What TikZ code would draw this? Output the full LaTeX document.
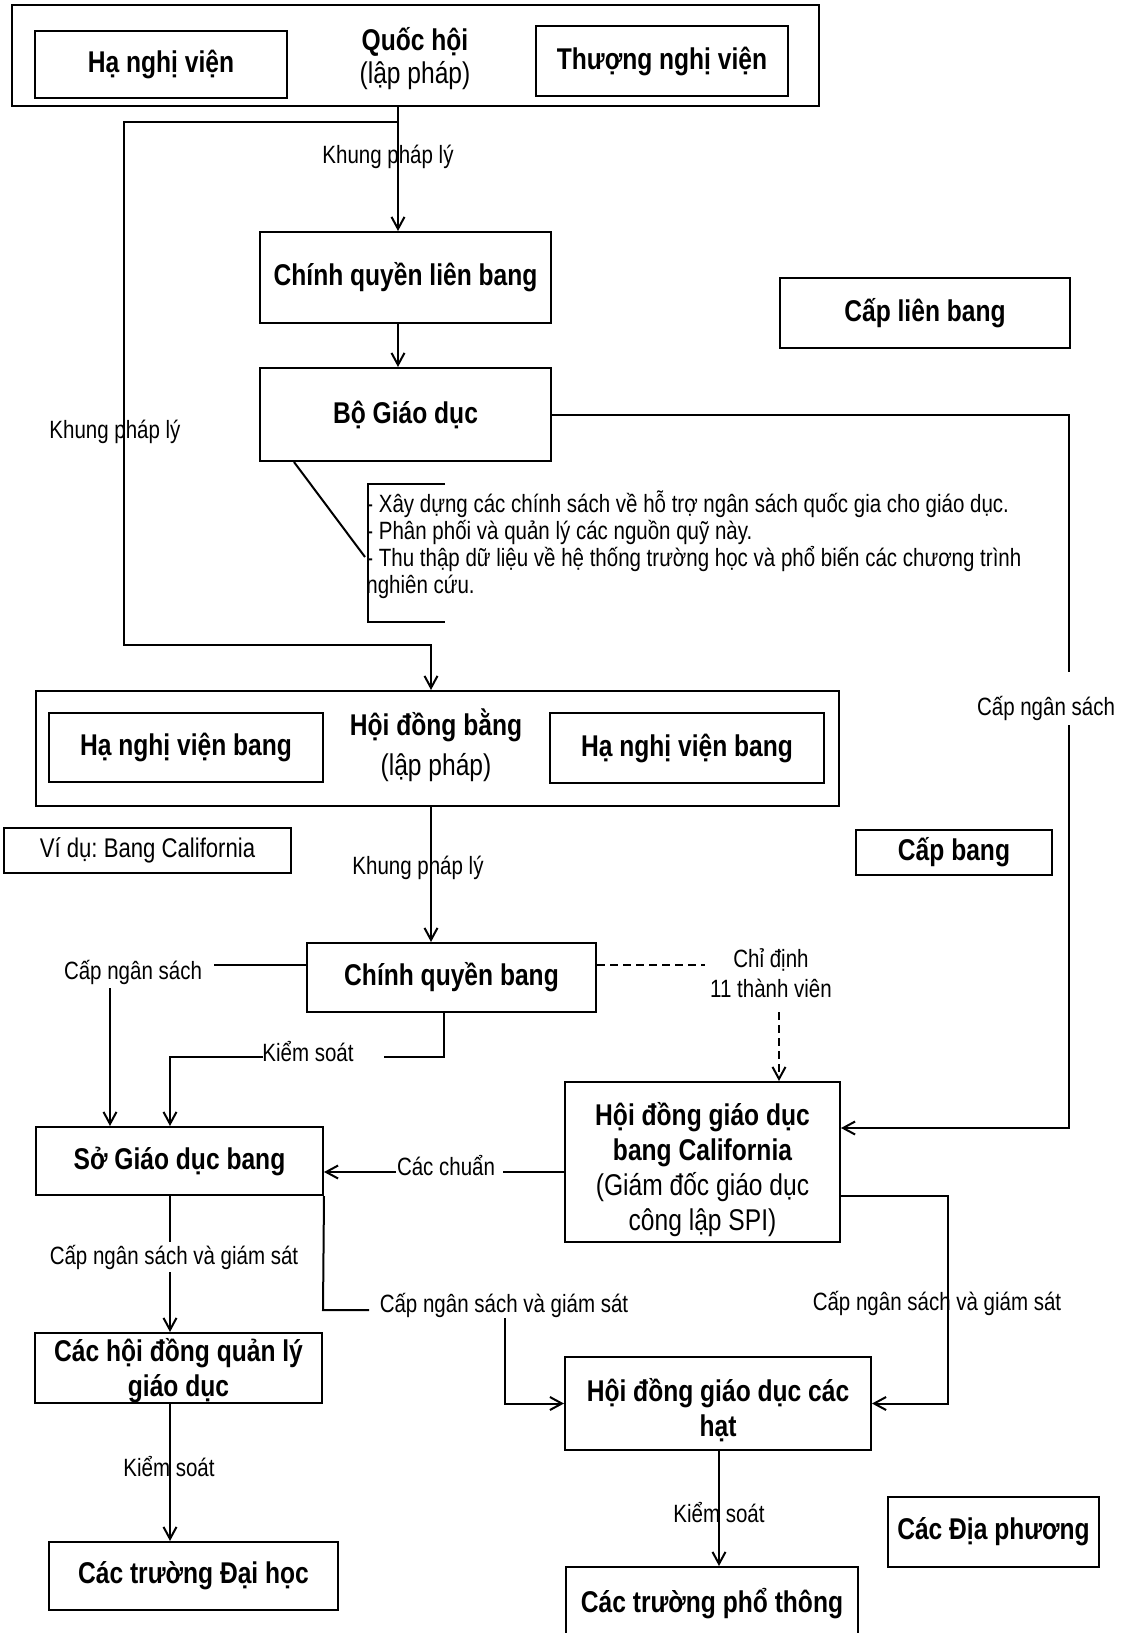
\documentclass[tikz,border=0pt]{standalone}
\usepackage{fontspec}
\setmainfont{Liberation Sans}[FakeStretch=0.82]
\usetikzlibrary{arrows.meta}
\frenchspacing
\begin{document}
\frenchspacing
\begin{tikzpicture}[x=0.5pt,y=-0.5pt,
  ln/.style={line width=1pt},
  arr/.style={line width=1pt,-{Straight Barb[length=6pt,width=6.5pt]}},
  dsh/.style={line width=1pt,dash pattern=on 4pt off 2.5pt},
  wh/.style 2 args={minimum width=#1*0.5pt,minimum height=#2*0.5pt},
  box/.style={draw,line width=1pt,inner sep=0pt,align=center,font=\fontsize{15}{17.5}\selectfont\bfseries},
  bt/.style={inner sep=0pt,align=center,font=\fontsize{15}{17.5}\selectfont\bfseries},
  rt/.style={inner sep=0pt,align=center,font=\fontsize{15}{17.5}\selectfont},
  lab/.style={inner sep=0pt,align=center,font=\fontsize{12.5}{15}\selectfont},
  labw/.style={lab,fill=white,inner sep=1.5pt},
]
\useasboundingbox (0,0) rectangle (1128,1633);

% rails
\coordinate (r398) at (398,0);
\coordinate (r431) at (431,0);
\coordinate (r779) at (779,0);
\coordinate (r110) at (110,0);
\coordinate (r170) at (170,0);
\coordinate (r444) at (444,0);
\coordinate (r719) at (719,0);
\coordinate (j1) at (398,122);

% ---------- federal ----------
\node[box,wh={807}{101}] (qh) at (415.5,55.5) {};
\node[box,wh={252}{67}] (hnv) at (161,64.5) {Hạ nghị viện};
\node[box,wh={252}{70}] (tnv) at (662,61) {Thượng nghị viện};
\node[bt] (qht) at (415,42) {Quốc hội};
\node[rt] (qhl) at (415,76) {(lập pháp)};

\node[box,wh={291}{91}] (cqlb) at (405.5,277.5) {Chính quyền liên bang};
\node[box,wh={291}{93}] (bgd) at (405.5,414.5) {Bộ Giáo dục};
\node[box,wh={290}{70}] (clb) at (925,313) {Cấp liên bang};

\node[lab,anchor=base west,align=left,font=\fontsize{12.5}{13.5}\selectfont] (bgdtxt) at (366,593)
  {- Xây dựng các chính sách về hỗ trợ ngân sách quốc gia cho giáo dục.\\
   - Phân phối và quản lý các nguồn quỹ này.\\
   - Thu thập dữ liệu về hệ thống trường học và phổ biến các chương trình\\
   nghiên cứu.};

% ---------- state ----------
\node[box,wh={803}{115}] (hdb) at (437.5,748.5) {};
\node[box,wh={274}{69}] (hnvb1) at (186,747.5) {Hạ nghị viện bang};
\node[box,wh={274}{70}] (hnvb2) at (687,748) {Hạ nghị viện bang};
\node[bt] (hdbt) at (436,725) {Hội đồng bằng};
\node[rt] (hdbl) at (436,768) {(lập pháp)};

\node[draw,line width=1pt,inner sep=0pt,wh={287}{45},font=\fontsize{13.5}{15}\selectfont] (vd) at (147.5,850.5) {Ví dụ: Bang California};
\node[box,wh={196}{45}] (cb) at (954,852.5) {Cấp bang};

\node[box,wh={289}{69}] (cqb) at (451.5,977.5) {Chính quyền bang};
\node[box,wh={287}{68}] (sgd) at (179.5,1161) {Sở Giáo dục bang};
\node[box,wh={275}{160}] (hdca) at (702.5,1162) {};
\node[bt] (hdcat) at (702.5,1170)
  {Hội đồng giáo dục\\bang California\\{\mdseries (Giám đốc giáo dục}\\{\mdseries công lập SPI)}};

% ---------- local ----------
\node[box,wh={287}{70}] (hdql) at (178.5,1368) {};
\node[bt] (hdqlt) at (178.5,1371) {Các hội đồng quản lý\\giáo dục};
\node[box,wh={289}{68}] (dh) at (193.5,1576) {Các trường Đại học};
\node[box,wh={306}{93}] (hdh) at (718,1403.5) {};
\node[bt] (hdht) at (718,1410) {Hội đồng giáo dục các\\hạt};
\node[box,wh={292}{73}] (tpt) at (712,1603.5) {Các trường phổ thông};
\node[box,wh={211}{70}] (dp) at (993.5,1532) {Các Địa phương};

% ---------- connectors ----------
\draw[arr] (qh.south -| r398) -- (cqlb.north -| r398);
\draw[arr] (j1) -- (124,122) -- (124,645) -- (431,645) -- (hdb.north -| r431);
\draw[arr] (cqlb.south -| r398) -- (bgd.north -| r398);

\draw[ln] (bgd.east) -- (1069,414.5) -- (1069,672);
\draw[arr] (1069,725) -- (1069,1128) -- ([yshift=17pt]hdca.east);

\draw[ln] ([xshift=17.5pt]bgd.south west) -- (365,557);
\draw[ln] (445,484) -- (368,484) -- (368,622) -- (445,622);

\draw[arr] (hdb.south -| r431) -- (cqb.north -| r431);

\draw[dsh] ([yshift=6.25pt]cqb.east) -- (705,965);
\draw[dsh,-{Straight Barb[length=6pt,width=6.5pt]}] (779,1012) -- (hdca.north -| r779);

\draw[ln] ([yshift=6.25pt]cqb.west) -- (214,965);
\draw[arr] (110,988) -- (sgd.north -| r110);

\draw[ln] (cqb.south -| r444) -- (444,1057) -- (384,1057);
\draw[arr] (263,1057) -- (170,1057) -- (sgd.north -| r170);

\draw[ln] ([yshift=-5pt]hdca.west) -- (503,1172);
\draw[arr] (396,1172) -- ([yshift=-5.5pt]sgd.east);

\draw[ln] (sgd.south east) -- (323,1310) -- (369,1310);
\draw[arr] (505,1318) -- (505,1403.5) -- (hdh.west);

\draw[arr] (sgd.south -| r170) -- (hdql.north -| r170);
\draw[arr] ([yshift=-17pt]hdca.east) -- (948,1196) -- (948,1403.5) -- (hdh.east);

\draw[arr] (hdql.south -| r170) -- (dh.north -| r170);
\draw[arr] (hdh.south -| r719) -- (tpt.north -| r719);

% ---------- labels ----------
\node[lab] (l1) at (388,157) {Khung pháp lý};
\node[lab] (l2) at (115,432) {Khung pháp lý};
\node[lab] (l3) at (1046,708) {Cấp ngân sách};
\node[lab] (l4) at (418,868) {Khung pháp lý};
\node[lab] (l5) at (771,973) {Chỉ định\\11 thành viên};
\node[lab] (l6) at (133,972) {Cấp ngân sách};
\node[lab] (l7) at (308,1052) {Kiểm soát};
\node[lab] (l8) at (446,1166) {Các chuẩn};
\node[labw] (l9) at (174,1257) {Cấp ngân sách và giám sát};
\node[lab] (l10) at (504,1305) {Cấp ngân sách và giám sát};
\node[lab] (l11) at (937,1303) {Cấp ngân sách và giám sát};
\node[lab] (l12) at (169,1467) {Kiểm soát};
\node[lab] (l13) at (719,1513) {Kiểm soát};
\end{tikzpicture}
\end{document}
